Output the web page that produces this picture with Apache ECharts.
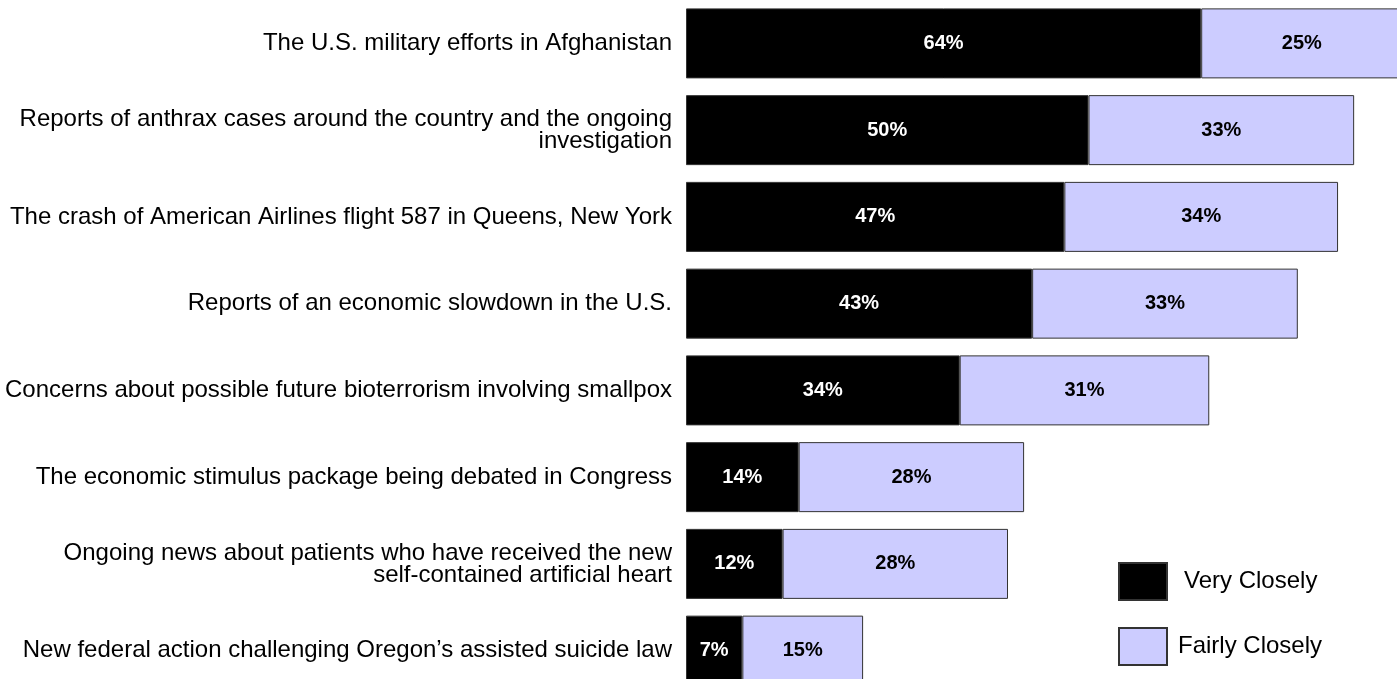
<!DOCTYPE html>
<html>
<head>
<meta charset="utf-8">
<script src="https://cdn.jsdelivr.net/npm/echarts@6/dist/echarts.min.js"></script>
<style>
  html, body { margin: 0; padding: 0; background: #fff; }
  #chart { width: 1397px; height: 679px; }
</style>
</head>
<body>
<div id="chart"></div>
<script>
const categories = [
  "The U.S. military efforts in Afghanistan",
  "Reports of anthrax cases around the country and the ongoing\ninvestigation",
  "The crash of American Airlines flight 587 in Queens, New York",
  "Reports of an economic slowdown in the U.S.",
  "Concerns about possible future bioterrorism involving smallpox",
  "The economic stimulus package being debated in Congress",
  "Ongoing news about patients who have received the new\nself-contained artificial heart",
  "New federal action challenging Oregon\u2019s assisted suicide law"
];
const veryClosely = [64, 50, 47, 43, 34, 14, 12, 7];
const fairlyClosely = [25, 33, 34, 33, 31, 28, 28, 15];

const chart = echarts.init(document.getElementById("chart"));

const font = "Liberation Sans, Arial, sans-serif";

chart.setOption({
  animation: false,
  grid: { left: 686, top: 0, width: 805, height: 694, outerBoundsMode: "none", containLabel: false },
  xAxis: {
    type: "value",
    min: 0,
    max: 100,
    show: false
  },
  yAxis: {
    type: "category",
    data: categories,
    inverse: true,
    axisLine: { show: false },
    axisTick: { show: false },
    axisLabel: {
      color: "#000",
      fontFamily: font,
      fontSize: 24,
      lineHeight: 22,
      margin: 14,
      align: "right"
    }
  },
  legend: {
    orient: "vertical",
    left: 1118,
    top: 562,
    padding: 0,
    itemWidth: 48,
    itemHeight: 37,
    itemGap: 26,
    icon: "rect",
    textStyle: { color: "#000", fontFamily: font, fontSize: 24 },
    data: [
      { name: "Very Closely", textStyle: { padding: [8, 0, 0, 12] } },
      { name: "Fairly Closely", textStyle: { padding: [0, 0, 0, 6] } }
    ]
  },
  series: [
    {
      name: "Very Closely",
      type: "bar",
      stack: "total",
      data: veryClosely,
      barWidth: 70,
      itemStyle: { color: "#000", borderColor: "#333", borderWidth: 1 },
      label: {
        show: true,
        position: "inside",
        formatter: "{c}%",
        color: "#fff",
        fontFamily: font,
        fontWeight: "bold",
        fontSize: 20
      }
    },
    {
      name: "Fairly Closely",
      type: "bar",
      stack: "total",
      data: fairlyClosely,
      barWidth: 70,
      itemStyle: { color: "#ccccff", borderColor: "#333", borderWidth: 1 },
      label: {
        show: true,
        position: "inside",
        formatter: "{c}%",
        color: "#000",
        fontFamily: font,
        fontWeight: "bold",
        fontSize: 20
      }
    }
  ]
});
</script>
</body>
</html>
